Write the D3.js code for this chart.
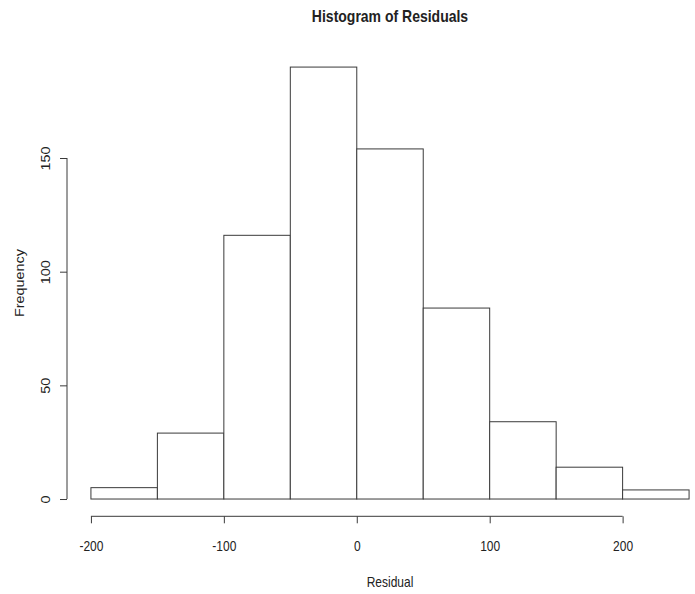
<!DOCTYPE html>
<html>
<head>
<meta charset="utf-8">
<script src="https://cdn.jsdelivr.net/npm/d3@7"></script>
<style>
  body { margin: 0; background: #fff; }
  svg { display: block; }
  text { font-family: "Liberation Sans", Arial, Helvetica, sans-serif; fill: #222; }
</style>
</head>
<body>
<svg id="chart" width="695" height="594"></svg>
<script>
// Histogram bins (break points) and the count in each bin
const binEdges = [-200, -150, -100, -50, 0, 50, 100, 150, 200, 250];
const counts = [5, 29, 116, 190, 154, 84, 34, 14, 4];
const xTicks = [-200, -100, 0, 100, 200];
const yTicks = [0, 50, 100, 150];
const titleText = "Histogram of Residuals";
const xLabel = "Residual";
const yLabel = "Frequency";

const bins = counts.map((c, i) => ({ x0: binEdges[i], x1: binEdges[i + 1], n: c }));

const svg = d3.select("#chart");
const lineColor = "#3a3a3a";
const textStretch = "scale(1,1.2)"; // glyphs are drawn slightly tall

// Plot region with 4% padding on both axes (base-graphics style)
const xr = [binEdges[0], binEdges[binEdges.length - 1]];
const xPad = (xr[1] - xr[0]) * 0.04;
const yMax = d3.max(counts);
const yPad = yMax * 0.04;
const x = d3.scaleLinear().domain([xr[0] - xPad, xr[1] + xPad]).range([67, 713]);
const y = d3.scaleLinear().domain([-yPad, yMax + yPad]).range([516.3, 49.8]);

// Bars
svg.append("g")
  .selectAll("rect")
  .data(bins)
  .join("rect")
  .attr("x", d => x(d.x0))
  .attr("y", d => y(d.n))
  .attr("width", d => x(d.x1) - x(d.x0))
  .attr("height", d => y(0) - y(d.n))
  .attr("fill", "#fff")
  .attr("stroke", lineColor)
  .attr("stroke-width", 1);

// X axis: line spans first to last tick
const xAxisY = y.range()[0];
const gx = svg.append("g")
  .attr("transform", `translate(0,${xAxisY})`)
  .call(d3.axisBottom(x).tickValues(xTicks).tickSize(7).tickFormat(d3.format("d")));
gx.select(".domain").remove();
gx.append("line")
  .attr("x1", x(xTicks[0])).attr("x2", x(xTicks[xTicks.length - 1]))
  .attr("stroke", lineColor);
gx.selectAll(".tick line").attr("stroke", lineColor);
gx.selectAll(".tick text")
  .attr("font-family", null)
  .attr("font-size", 12)
  .attr("fill", null)
  .attr("y", null).attr("dy", null)
  .attr("text-anchor", "middle")
  .attr("transform", `translate(0,35) ${textStretch}`)
  .text(d => d < 0 ? "-" + Math.abs(d) : String(d));

// Y axis: rotated tick labels
const yAxisX = x.range()[0];
const gy = svg.append("g")
  .attr("transform", `translate(${yAxisX},0)`)
  .call(d3.axisLeft(y).tickValues(yTicks).tickSize(7).tickFormat(d3.format("d")));
gy.select(".domain").remove();
gy.append("line")
  .attr("y1", y(yTicks[0])).attr("y2", y(yTicks[yTicks.length - 1]))
  .attr("stroke", lineColor);
gy.selectAll(".tick line").attr("stroke", lineColor);
gy.selectAll(".tick text")
  .attr("font-family", null)
  .attr("font-size", 12)
  .attr("fill", null)
  .attr("x", null).attr("dy", null)
  .attr("text-anchor", "middle")
  .attr("transform", `translate(-17,0) ${textStretch} rotate(-90)`);

// Title
svg.append("text")
  .attr("transform", `translate(${(x.range()[0] + x.range()[1]) / 2},21.5) ${textStretch}`)
  .attr("text-anchor", "middle")
  .attr("font-size", 14)
  .attr("font-weight", "bold")
  .text(titleText);

// Axis labels
svg.append("text")
  .attr("transform", `translate(${(x.range()[0] + x.range()[1]) / 2},587) ${textStretch}`)
  .attr("text-anchor", "middle")
  .attr("font-size", 12)
  .text(xLabel);

svg.append("text")
  .attr("transform", `translate(23.5,${(y.range()[0] + y.range()[1]) / 2}) ${textStretch} rotate(-90)`)
  .attr("text-anchor", "middle")
  .attr("font-size", 12)
  .text(yLabel);
</script>
</body>
</html>
